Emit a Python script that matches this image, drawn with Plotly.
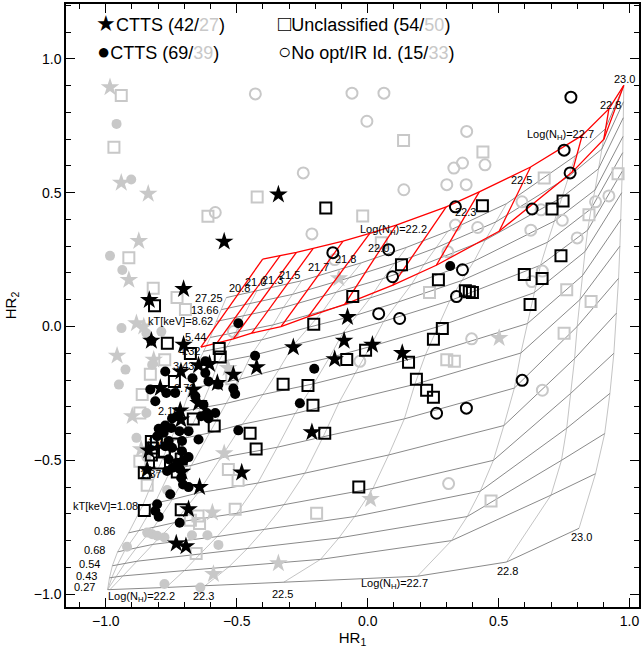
import plotly.graph_objects as go

# ---------------- data ----------------
star_blk_x = [-0.341,-0.548,-0.703,-0.077,-0.090,0.018,-0.284,-0.424,-0.126,0.132,-0.513,-0.574,-0.646,-0.604,-0.834,-0.826,-0.703,-0.713,-0.792,-0.665,-0.716,-0.713,-0.646,-0.836,-0.709,-0.842,-0.481,-0.642,-0.684,-0.731,-0.694,-0.213]
star_blk_y = [0.493,0.317,0.140,0.035,-0.053,-0.068,-0.078,-0.152,-0.122,-0.099,-0.180,-0.211,-0.145,-0.140,0.099,-0.053,-0.068,-0.168,-0.230,-0.236,-0.314,-0.348,-0.286,-0.463,-0.543,-0.535,-0.546,-0.600,-0.683,-0.811,-0.821,-0.395]

dot_blk_x = [-0.494,-0.826,-0.430,-0.620,-0.773,-0.830,-0.669,-0.620,-0.608,-0.570,-0.513,-0.506,-0.769,-0.735,-0.811,-0.658,-0.627,-0.614,-0.582,-0.747,-0.728,-0.636,-0.608,-0.798,-0.773,-0.779,-0.750,-0.719,-0.684,-0.646,-0.804,-0.760,-0.709,-0.773,-0.747,-0.709,-0.684,-0.728,-0.703,-0.760,-0.745,-0.716,-0.766,-0.712,-0.705,-0.684,-0.754,-0.804,-0.811,-0.798,-0.718,-0.494,-0.204,0.315,-0.259]
dot_blk_y = [0.012,-0.053,-0.109,-0.130,-0.168,-0.235,-0.193,-0.174,-0.205,-0.217,-0.232,-0.252,-0.248,-0.248,-0.279,-0.261,-0.292,-0.323,-0.323,-0.344,-0.335,-0.335,-0.344,-0.382,-0.370,-0.397,-0.379,-0.391,-0.391,-0.422,-0.410,-0.428,-0.428,-0.447,-0.453,-0.466,-0.488,-0.509,-0.500,-0.496,-0.528,-0.534,-0.540,-0.565,-0.590,-0.600,-0.627,-0.664,-0.689,-0.711,-0.733,-0.388,-0.158,0.226,-0.287]

sq_blk_x = [-0.814,-0.765,-0.677,-0.567,-0.563,-0.738,-0.666,-0.586,-0.826,-0.807,-0.822,-0.776,-0.742,-0.826,-0.795,-0.735,-0.712,-0.853,-0.727,-0.853,-0.712,-0.449,-0.426,-0.206,-0.323,-0.228,-0.209,-0.164,-0.008,-0.080,-0.057,0.129,0.270,0.285,0.251,0.156,0.186,0.225,0.251,-0.034,-0.160,0.438,0.704,0.746,0.738,0.666,0.598,0.620,0.373,0.388,0.400]
sq_blk_y = [0.078,-0.063,-0.101,-0.082,-0.114,-0.205,-0.346,-0.372,-0.430,-0.432,-0.454,-0.466,-0.439,-0.480,-0.510,-0.477,-0.495,-0.546,-0.544,-0.687,-0.685,-0.399,-0.458,0.008,-0.216,-0.220,-0.294,-0.399,-0.089,-0.123,0.112,0.231,0.175,-0.007,-0.048,-0.134,-0.197,-0.238,-0.264,-0.600,0.443,0.451,0.439,0.469,0.264,0.179,0.194,0.082,0.134,0.130,0.127]

circ_blk_x = [0.776,0.750,0.773,0.628,0.335,0.362,0.339,-0.133,0.080,0.095,0.042,0.122,0.590,0.377,0.263]
circ_blk_y = [0.857,0.659,0.574,0.439,0.447,0.212,0.112,0.276,0.287,0.186,0.048,0.030,-0.201,-0.305,-0.324]

star_gry_x = [-0.984,-0.941,-0.838,-0.874,-0.912,-0.883,-0.855,-0.957,-0.817,-0.899,-0.865,-0.548,-0.533,-0.593,-0.589,-0.341,0.011,0.502,-0.110]
star_gry_y = [0.894,0.537,0.496,0.319,0.174,0.012,0.000,-0.109,-0.124,-0.335,-0.459,-0.474,-0.155,-0.695,-0.925,-0.885,-0.645,-0.043,0.180]

dot_gry_x = [-0.959,-0.903,-0.984,-0.937,-0.940,-0.845,-0.788,-0.823,-0.925,-0.950,-0.845,-0.883,-0.766,-0.842,-0.823,-0.804,-0.776,-0.919,-0.671,-0.612,-0.570,-0.776,-0.639,-0.845]
dot_gry_y = [0.757,0.549,0.264,0.211,-0.006,-0.025,-0.019,-0.143,-0.161,-0.217,-0.323,-0.416,-0.611,-0.770,-0.776,-0.782,-0.788,-0.823,-0.780,-0.780,-0.816,-0.962,-0.975,-0.488]

sq_gry_x = [-0.941,-0.969,-0.610,-0.912,-0.422,0.137,0.440,-0.019,0.052,0.674,0.845,0.956,0.236,0.760,0.853,0.750,0.302,0.331,0.471,-0.842,-0.495,-0.648,-0.642,-0.677,-0.506,-0.195,-0.655,-0.819,-0.728,-0.696,-0.775,-0.830,-0.861,-0.870,-0.870,-0.532,-0.519]
sq_gry_y = [0.863,0.670,0.412,0.257,0.484,0.695,0.652,0.413,0.313,0.555,0.418,0.571,0.127,0.137,0.093,-0.025,-0.124,-0.130,-0.652,-0.593,-0.575,-0.708,-0.736,-0.724,-0.683,-0.698,-0.848,0.143,0.108,0.064,-0.124,-0.178,-0.254,-0.323,-0.503,-0.534,-0.195]

circ_gry_x = [-0.429,-0.060,0.062,-0.003,0.378,-0.246,0.329,0.362,0.448,0.302,0.376,0.138,-0.582,-0.213,0.335,0.420,0.589,0.306,0.623,0.743,0.870,0.921,0.800,0.627,0.667,0.397,0.667,0.309,-0.030,-0.126,-0.513,0.662]
circ_gry_y = [0.869,0.872,0.872,0.767,0.729,0.574,0.592,0.611,0.604,0.530,0.530,0.511,0.426,0.346,0.379,0.370,0.466,0.279,0.360,0.397,0.466,0.488,0.331,0.168,0.207,-0.046,-0.238,-0.587,-0.130,0.250,-0.019,0.436]

# model grid: one row per kT, columns = log NH 20.8,21.3,21.7,22.0,22.2,22.3,22.5,22.7,22.8,23.0
kt_values = ["0.27","0.43","0.54","0.68","0.86","1.08","1.37","1.72","2.16","2.72","3.43","4.32","5.44","8.62","13.66","27.25"]
grid_hr1 = [
    [-0.993,-0.993,-0.993,-0.984,-0.770,-0.620,-0.320,0.190,0.530,0.807],
    [-0.986,-0.977,-0.962,-0.936,-0.700,-0.530,-0.180,0.320,0.700,0.870],
    [-0.975,-0.956,-0.928,-0.881,-0.640,-0.460,-0.110,0.380,0.740,0.905],
    [-0.955,-0.927,-0.884,-0.820,-0.575,-0.395,-0.050,0.430,0.760,0.925],
    [-0.913,-0.874,-0.818,-0.739,-0.500,-0.320,0.020,0.480,0.775,0.940],
    [-0.860,-0.813,-0.746,-0.648,-0.420,-0.240,0.080,0.520,0.790,0.950],
    [-0.807,-0.752,-0.673,-0.562,-0.345,-0.170,0.140,0.560,0.800,0.958],
    [-0.754,-0.692,-0.601,-0.478,-0.277,-0.110,0.180,0.585,0.810,0.963],
    [-0.708,-0.639,-0.539,-0.400,-0.206,-0.048,0.220,0.610,0.820,0.967],
    [-0.677,-0.601,-0.489,-0.338,-0.147,0.010,0.267,0.635,0.830,0.970],
    [-0.654,-0.571,-0.447,-0.283,-0.095,0.061,0.313,0.660,0.840,0.972],
    [-0.628,-0.538,-0.405,-0.226,-0.042,0.115,0.360,0.687,0.853,0.974],
    [-0.601,-0.503,-0.361,-0.171,0.010,0.167,0.406,0.713,0.868,0.975],
    [-0.578,-0.474,-0.322,-0.120,0.059,0.215,0.449,0.741,0.881,0.976],
    [-0.559,-0.448,-0.287,-0.071,0.105,0.261,0.490,0.767,0.894,0.977],
    [-0.540,-0.423,-0.252,-0.024,0.149,0.306,0.530,0.793,0.907,0.978],
]
grid_hr2 = [
    [-0.983,-0.983,-0.983,-0.983,-0.975,-0.968,-0.955,-0.933,-0.880,-0.754],
    [-0.939,-0.938,-0.936,-0.932,-0.912,-0.898,-0.870,-0.800,-0.630,-0.550],
    [-0.894,-0.891,-0.886,-0.877,-0.850,-0.830,-0.790,-0.710,-0.500,-0.400],
    [-0.842,-0.836,-0.828,-0.814,-0.785,-0.758,-0.710,-0.615,-0.380,-0.250],
    [-0.771,-0.763,-0.752,-0.733,-0.698,-0.666,-0.605,-0.500,-0.250,-0.100],
    [-0.670,-0.660,-0.646,-0.622,-0.585,-0.548,-0.480,-0.370,-0.120,0.050],
    [-0.547,-0.536,-0.519,-0.490,-0.451,-0.412,-0.345,-0.230,0.000,0.180],
    [-0.428,-0.415,-0.397,-0.365,-0.325,-0.285,-0.216,-0.099,0.100,0.300],
    [-0.317,-0.305,-0.287,-0.254,-0.214,-0.175,-0.107,0.011,0.190,0.400],
    [-0.231,-0.217,-0.197,-0.159,-0.117,-0.075,-0.001,0.126,0.280,0.500],
    [-0.149,-0.134,-0.110,-0.069,-0.025,0.019,0.096,0.229,0.360,0.580],
    [-0.093,-0.076,-0.050,-0.003,0.043,0.091,0.172,0.315,0.440,0.650],
    [-0.041,-0.021,0.006,0.058,0.107,0.157,0.244,0.394,0.510,0.710],
    [0.019,0.040,0.071,0.128,0.179,0.232,0.323,0.482,0.589,0.780],
    [0.063,0.086,0.120,0.182,0.237,0.294,0.391,0.560,0.663,0.840],
    [0.108,0.133,0.171,0.238,0.296,0.356,0.459,0.638,0.738,0.900],
]

# red model: NH lines 20.8 ... 23.0
red_nh = ["20.8","21.0","21.3","21.5","21.7","21.8","22.0","22.2","22.3","22.5","22.7","22.8","23.0"]
red_up_x = [-0.401,-0.335,-0.272,-0.208,-0.094,0.008,0.109,0.300,0.426,0.622,0.819,0.921,0.978]
red_up_y = [0.252,0.264,0.277,0.292,0.319,0.348,0.379,0.447,0.503,0.596,0.714,0.813,0.901]
red_lo_x = [-0.637,-0.576,-0.513,-0.443,-0.331,-0.227,-0.088,0.096,0.262,0.502,0.781,0.902,0.978]
red_lo_y = [-0.077,-0.062,-0.046,-0.025,0.000,0.037,0.083,0.155,0.229,0.356,0.577,0.700,0.901]

GRAY = "#c8c8c8"
KT_COL = "#8a8a8a"
NH_COL = "#c4c4c4"
FONT = "Liberation Sans"

fig = go.Figure()

# gray grid: NH lines (columns)
ncol = len(grid_hr1[0])
xs, ys = [], []
for j in range(ncol):
    for k in range(len(grid_hr1)):
        xs.append(grid_hr1[k][j]); ys.append(grid_hr2[k][j])
    xs.append(None); ys.append(None)
fig.add_trace(go.Scatter(x=xs, y=ys, mode="lines", line=dict(color=NH_COL, width=1), hoverinfo="skip", showlegend=False))
# kT lines (rows)
xs, ys = [], []
for k in range(len(grid_hr1)):
    xs += grid_hr1[k] + [None]; ys += grid_hr2[k] + [None]
fig.add_trace(go.Scatter(x=xs, y=ys, mode="lines", line=dict(color=KT_COL, width=1), hoverinfo="skip", showlegend=False))

def pts(x, y, sym, size, color, lw=0):
    fig.add_trace(go.Scatter(x=x, y=y, mode="markers", showlegend=False,
                             marker=dict(symbol=sym, size=size, color=color,
                                         line=dict(color=color, width=lw))))

pts(star_gry_x, star_gry_y, "star", 14, GRAY)
pts(dot_gry_x, dot_gry_y, "circle", 10, GRAY)
pts(sq_gry_x, sq_gry_y, "square-open", 11, GRAY, 2)
pts(circ_gry_x, circ_gry_y, "circle-open", 11, GRAY, 2)

# red grid
xs = red_up_x + [None] + red_lo_x + [None]
ys = red_up_y + [None] + red_lo_y + [None]
for i in range(len(red_nh)):
    xs += [red_lo_x[i], red_up_x[i], None]
    ys += [red_lo_y[i], red_up_y[i], None]
fig.add_trace(go.Scatter(x=xs, y=ys, mode="lines", line=dict(color="#ff0000", width=1.3), hoverinfo="skip", showlegend=False))

pts(dot_blk_x, dot_blk_y, "circle", 10, "black")
pts(star_blk_x, star_blk_y, "star", 14, "black")
pts(sq_blk_x, sq_blk_y, "square-open", 11, "black", 2)
pts(circ_blk_x, circ_blk_y, "circle-open", 11, "black", 2)

ann = []
def lab(t, x, y, size=11):
    ann.append(dict(text=t, x=x, y=y, xref="x", yref="y", showarrow=False,
                    font=dict(size=size, color="black", family=FONT), xanchor="center", yanchor="middle"))

kt_lab = [("0.27",-1.081,-0.974),("0.43",-1.073,-0.931),("0.54",-1.064,-0.886),("0.68",-1.045,-0.834),
          ("0.86",-1.005,-0.764),("kT[keV]=1.08",-1.001,-0.670),("1.37",-0.830,-0.550),("1.72",-0.800,-0.430),
          ("2.16",-0.761,-0.317),("2.72",-0.700,-0.231),("3.43",-0.704,-0.149),("4.32",-0.681,-0.093),
          ("5.44",-0.658,-0.041),("kT[keV]=8.62",-0.714,0.022),("13.66",-0.620,0.063),("27.25",-0.605,0.108)]
for t, x, y in kt_lab:
    lab(t, x, y)
nh_lab = [("Log(N<sub>H</sub>)=22.2",-0.862,-1.011),("22.3",-0.626,-1.006),("22.5",-0.325,-0.998),
          ("Log(N<sub>H</sub>)=22.7",0.101,-0.963),("22.8",0.535,-0.912),("23.0",0.816,-0.786),
          ("20.8",-0.491,0.145),("21.0",-0.428,0.168),("21.3",-0.362,0.175),("21.5",-0.299,0.194),
          ("21.7",-0.186,0.223),("21.8",-0.086,0.253),("22.0",0.042,0.294),
          ("Log(N<sub>H</sub>)=22.2",0.097,0.361),("22.3",0.373,0.428),("22.5",0.588,0.547),
          ("Log(N<sub>H</sub>)=22.7",0.736,0.715),("22.8",0.927,0.827),("23.0",0.982,0.924)]
for t, x, y in nh_lab:
    lab(t, x, y)

g = lambda s: f"<span style='color:{GRAY}'>{s}</span>"
big = lambda s: f"<span style='font-size:22px'>{s}</span>"
leg = [(big("★") + "CTTS (42/" + g("27") + ")", 0.048, 0.967),
       (big("●") + "CTTS (69/" + g("39") + ")", 0.050, 0.921),
       (big("□") + "Unclassified (54/" + g("50") + ")", 0.366, 0.967),
       (big("○") + "No opt/IR Id. (15/" + g("33") + ")", 0.366, 0.921)]
for t, x, y in leg:
    ann.append(dict(text=t, x=x, y=y, xref="paper", yref="paper", showarrow=False,
                    xanchor="left", yanchor="middle", font=dict(size=18, color="black", family=FONT)))

axis_common = dict(showline=True, linecolor="black", linewidth=1.5, mirror="ticks", ticks="inside",
                   ticklen=9, tickwidth=1, tickcolor="black", showgrid=False, zeroline=False,
                   tickfont=dict(size=14, family=FONT, color="black"),
                   minor=dict(ticks="inside", ticklen=5, dtick=0.1, tickcolor="black", showgrid=False))
fig.update_xaxes(range=[-1.152, 1.036], dtick=0.5, tickformat=".1f",
                 title=dict(text="HR<sub>1</sub>", font=dict(size=15, family=FONT), standoff=4), **axis_common)
fig.update_yaxes(range=[-1.048, 1.205], dtick=0.5, tickformat=".1f",
                 title=dict(text="HR<sub>2</sub>", font=dict(size=15, family=FONT), standoff=14), **axis_common)
fig.update_layout(width=643, height=649, margin=dict(l=66, r=2, t=2, b=42),
                  plot_bgcolor="white", paper_bgcolor="white", annotations=ann,
                  font=dict(family=FONT, color="black"))
fig.write_html("out.html", config={"displayModeBar": False},
               post_script="document.body.style.margin='0px';")
